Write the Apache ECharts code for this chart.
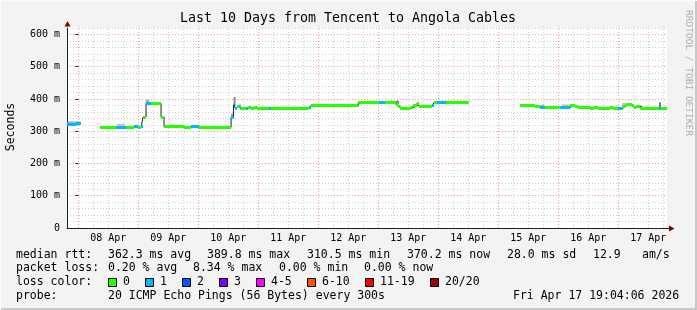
<!DOCTYPE html>
<html><head><meta charset="utf-8">
<script src="https://cdn.jsdelivr.net/npm/echarts@6/dist/echarts.min.js"></script>
<style>html,body{margin:0;padding:0;background:#f3f3f3}#c{width:697px;height:310px}</style>
</head><body><div id="c"></div>
<script>
// ---------------- data (hours since 08 Apr 00:00) ----------------
const dayLabels = ['08 Apr','09 Apr','10 Apr','11 Apr','12 Apr','13 Apr','14 Apr','15 Apr','16 Apr','17 Apr'];
const labelHours = [12, 36, 60, 84, 108, 132, 156, 180, 204, 228];
const yTickValues = [0, 100, 200, 300, 400, 500, 600];

// median rtt segments (ms) with number of lost pings (of 20)
const segStart = [-4.52,-2.9,-0.9, 8.7,15.1,19.1,22.3,23.9,25.1,25.9,27.1,29.1,33.1,34.3,42.3,45.1,48.3,
  61.1,62.1,62.7,63.5,64.5,64.9,67.1,67.9,69.1,70.3,71.5,76.3,77.1,92.3,93.1,112.0,120.3,122.7,127.1,127.9,
  128.7,132.7,133.9,135.5,136.3,137.1,141.5,142.3,143.5,147.1,
  176.7,182.7,184.7,186.7,192.7,196.7,198.7,199.9,204.7,205.9,207.9,212.7,213.9,215.9,217.5,218.7,219.5,
  221.5,222.3,223.1,224.7,226.3,232.3,233.1];
const segEnd = [-2.9,-0.9,1.0, 15.1,19.1,22.3,23.9,25.1,25.9,27.1,29.1,33.1,34.3,42.3,45.1,48.3,61.1,
  62.1,62.7,63.5,64.5,64.9,67.1,67.9,69.1,70.3,71.5,76.3,77.1,92.3,93.1,112.0,120.3,122.7,127.1,127.9,128.7,
  132.7,133.9,135.5,136.3,137.1,141.5,142.3,143.5,147.1,156.1,
  182.7,184.7,186.7,192.7,196.7,198.7,199.9,204.7,205.9,207.9,212.7,213.9,215.9,217.5,218.7,219.5,221.5,
  222.3,223.1,224.7,226.3,232.3,233.1,235.48];
const segMedian = [320,322,325, 312,312,312,315,312,314,344,386,386,344,314,312,314,312,
  343,380,372,378,380,370,370,374,370,374,370,370,370,374,380,390,390,390,383,376,
  370,373,379,386,377,378,380,390,390,390,
  380,377,374,374,374,380,377,374,369,374,371,374,372,370,376,380,384,
  380,374,378,372,370,370,370];
const segLoss = [1,1,1, 0,1,0,1,0,1,0,1,0,0,0,0,1,0,
  1,2,1,0,1,0,1,0,0,0,0,1,0,1,0,0,1,0,0,0,
  0,0,0,0,0,0,1,0,1,0,
  0,0,1,0,1,0,0,0,0,0,0,0,0,1,0,0,0,
  0,0,0,0,0,1,0];

// smoke (spread of pings): start, end, low, high (ms), shade
const smokeStart = [-4.3, 15.5, 27.0, 61.1, 62.1, 120.8, 127.1, 137.5, 184.9, 193.5, 217.5, 232.3];
const smokeEnd   = [ 0.8, 18.8, 28.4, 62.1, 62.9, 122.0, 128.3, 139.5, 186.3, 196.7, 219.5, 233.1];
const smokeLow   = [ 318,  313,  384,  343,  378,  388,  384,  377,  374,  374,  376,  370];
const smokeHigh  = [ 331,  323,  398,  354,  406,  394,  395,  382,  382,  383,  388,  390];
const smokeShade = ['#b4b4b4','#c4c4c4','#a8a8a8','#9a9a9a','#8c8c8c','#bdbdbd','#8c8c8c','#cccccc','#aaaaaa','#bdbdbd','#c8c8c8','#7a7a7a'];

const lossLabels = ['0','1','2','3','4-5','6-10','11-19','20/20'];
const lossColors = ['#26ff00','#00b8ff','#0059ff','#7e00ff','#ff00ff','#ff5500','#ff0000','#a10000'];
const rttStats = ['362.3 ms avg','389.8 ms max','310.5 ms min','370.2 ms now','28.0 ms sd','12.9','am/s'];
const lossStats = ['0.20 % avg','8.34 % max','0.00 % min','0.00 % now'];

// ---------------- chart ----------------
const FONT = '"DejaVu Sans Mono", monospace';
const X_MIN = -4.52, X_MAX = 235.48, Y_MAX = 620;
const MAJOR = '#f29a9a', MINOR = '#cdcdcd';

const gridHours = [];
for (let h = 0; h <= 234; h += 6) gridHours.push(h);

function lossIndex(n){ if(n<=3) return n; if(n<=5) return 4; if(n<=10) return 5; if(n<20) return 6; return 7; }

const medianLine = [];
for (let i = 0; i < segStart.length; i++) {
  medianLine.push([segStart[i], segMedian[i]]);
  const contiguous = i + 1 < segStart.length && Math.abs(segStart[i+1] - segEnd[i]) < 1e-6;
  if (!contiguous) { medianLine.push([segEnd[i], segMedian[i]]); medianLine.push([segEnd[i], null]); }
}
const segData = segStart.map((s, i) => [s, segEnd[i], segMedian[i], segLoss[i]]);
const smokeData = smokeStart.map((s, i) => [s, smokeEnd[i], smokeLow[i], smokeHigh[i], i]);

const crisp = v => Math.round(v - 0.5) + 0.5;

const graphics = [];
const txt = (x, y, s, o) => graphics.push(Object.assign({type:'text', x, y, silent:true,
  style:{text:s, font:'11.5px ' + FONT, fill:'#000', textAlign:'left', textVerticalAlign:'middle'}}, o||{}));

// frame shading
graphics.push({type:'rect', shape:{x:0,y:308,width:697,height:2}, style:{fill:'#c8c8c8'}, silent:true});
graphics.push({type:'rect', shape:{x:695,y:0,width:2,height:310}, style:{fill:'#c8c8c8'}, silent:true});
graphics.push({type:'rect', shape:{x:0,y:0,width:697,height:1}, style:{fill:'#fbfbfb'}, silent:true});
graphics.push({type:'rect', shape:{x:0,y:0,width:1,height:310}, style:{fill:'#fbfbfb'}, silent:true});

// title and axis name
graphics.push({type:'text', x:348, y:19, silent:true, style:{text:'Last 10 Days from Tencent to Angola Cables',
  font:'13.3px ' + FONT, fill:'#000', textAlign:'center', textVerticalAlign:'middle'}});
graphics.push({type:'text', x:11, y:127, rotation:Math.PI/2, silent:true, style:{text:'Seconds',
  font:'11.5px ' + FONT, fill:'#000', textAlign:'center', textVerticalAlign:'middle'}});
graphics.push({type:'text', x:688, y:73, rotation:-Math.PI/2, silent:true, style:{text:'RRDTOOL / TOBI OETIKER',
  font:'9.5px ' + FONT, fill:'#aaaaaa', textAlign:'center', textVerticalAlign:'middle'}});

// arrows
graphics.push({type:'polygon', silent:true, z:100, shape:{points:[[64.5,26.5],[70.5,26.5],[67.5,21]]}, style:{fill:'#800000'}});
graphics.push({type:'line', silent:true, z:100, shape:{x1:667,y1:228.5,x2:669,y2:228.5}, style:{stroke:'#202020',lineWidth:1}});
graphics.push({type:'polygon', silent:true, z:100, shape:{points:[[669,225.5],[669,231.5],[674.5,228.5]]}, style:{fill:'#800000'}});

// legend rows
const rowY = [255, 268.5, 282.5, 296];
txt(16, rowY[0], 'median rtt:');
[108, 207, 307, 407, 507, 593, 642].forEach((x, i) => txt(x, rowY[0], rttStats[i]));
txt(16, rowY[1], 'packet loss:');
[108, 193, 279, 364].forEach((x, i) => txt(x, rowY[1], lossStats[i]));
txt(16, rowY[2], 'loss color:');
const boxX = [108, 145, 182, 219, 256, 307, 365, 430];
boxX.forEach((x, i) => {
  graphics.push({type:'rect', silent:true, shape:{x:x+0.5, y:278.5, width:8, height:8},
    style:{fill:lossColors[i], stroke:'#000', lineWidth:1}});
  txt(x + 15, rowY[2], lossLabels[i]);
});
txt(16, rowY[3], 'probe:');
txt(108, rowY[3], '20 ICMP Echo Pings (56 Bytes) every 300s');
txt(513, rowY[3], 'Fri Apr 17 19:04:06 2026');

const chart = echarts.init(document.getElementById('c'), null, {renderer:'canvas', width:697, height:310});
chart.setOption({
  animation:false,
  backgroundColor:'#f3f3f3',
  grid:{left:67, top:28, width:600, height:200, show:true, backgroundColor:'#ffffff', borderWidth:0},
  xAxis:[{
    type:'value', min:X_MIN, max:X_MAX,
    axisLine:{show:true, lineStyle:{color:'#202020', width:1}},
    axisTick:{show:false},
    splitLine:{show:false},
    axisLabel:{customValues:labelHours, margin:5, color:'#000', fontFamily:'DejaVu Sans Mono', fontSize:10,
      formatter:v => dayLabels[Math.round((v - 12) / 24)] || ''}
  }],
  yAxis:[{
    type:'value', min:0, max:Y_MAX, interval:20, position:'left',
    axisLine:{show:true, onZero:false, lineStyle:{color:'#202020', width:1}},
    axisTick:{show:false}, axisLabel:{show:false},
    splitLine:{show:true, lineStyle:{color:[MAJOR, MINOR, MINOR, MINOR, MINOR], width:1, type:[1,2]}}
  },{
    type:'value', min:0, max:Y_MAX, interval:100, position:'left',
    axisLine:{show:false},
    axisTick:{show:true, length:3, customValues:yTickValues, lineStyle:{color:'#202020'}},
    splitLine:{show:false},
    axisLabel:{customValues:yTickValues, margin:7, color:'#000', fontFamily:'DejaVu Sans Mono', fontSize:10,
      formatter:v => (v % 100 !== 0 ? '' : (v === 0 ? '0' : v + ' m'))}
  }],
  graphic:graphics,
  series:[
    { // vertical grid lines
      type:'custom', silent:true, z:1, data:gridHours.map(h => [h]),
      encode:{x:0},
      renderItem:(params, api) => {
        const h = api.value(0);
        const p0 = api.coord([h, 0]), p1 = api.coord([h, Y_MAX]);
        const x = crisp(p0[0]);
        return {type:'line', shape:{x1:x, y1:p0[1], x2:x, y2:p1[1] - 1.5},
          style:{stroke: h % 24 === 0 ? MAJOR : MINOR, lineWidth:1, lineDash:[1,2]}};
      }
    },
    { // smoke
      type:'custom', silent:true, z:2, data:smokeData, encode:{x:[0,1], y:[2,3]},
      renderItem:(params, api) => {
        const a = api.coord([api.value(0), api.value(3)]), b = api.coord([api.value(1), api.value(2)]);
        return {type:'rect', shape:{x:a[0], y:a[1], width:b[0]-a[0], height:b[1]-a[1]},
          style:{fill:smokeShade[api.value(4)]}};
      }
    },
    { // median black step line
      type:'line', z:3, data:medianLine, step:'end', showSymbol:false, symbol:'none', silent:true,
      lineStyle:{color:'#202020', width:1}, connectNulls:false
    },
    { // median coloured by loss
      type:'custom', silent:true, z:4, data:segData, encode:{x:[0,1], y:2},
      renderItem:(params, api) => {
        const a = api.coord([api.value(0), api.value(2)]), b = api.coord([api.value(1), api.value(2)]);
        const y = crisp(a[1]);
        return {type:'line', shape:{x1:a[0], y1:y, x2:b[0], y2:y},
          style:{stroke:lossColors[lossIndex(api.value(3))], lineWidth:3}};
      }
    }
  ]
});
</script></body></html>
